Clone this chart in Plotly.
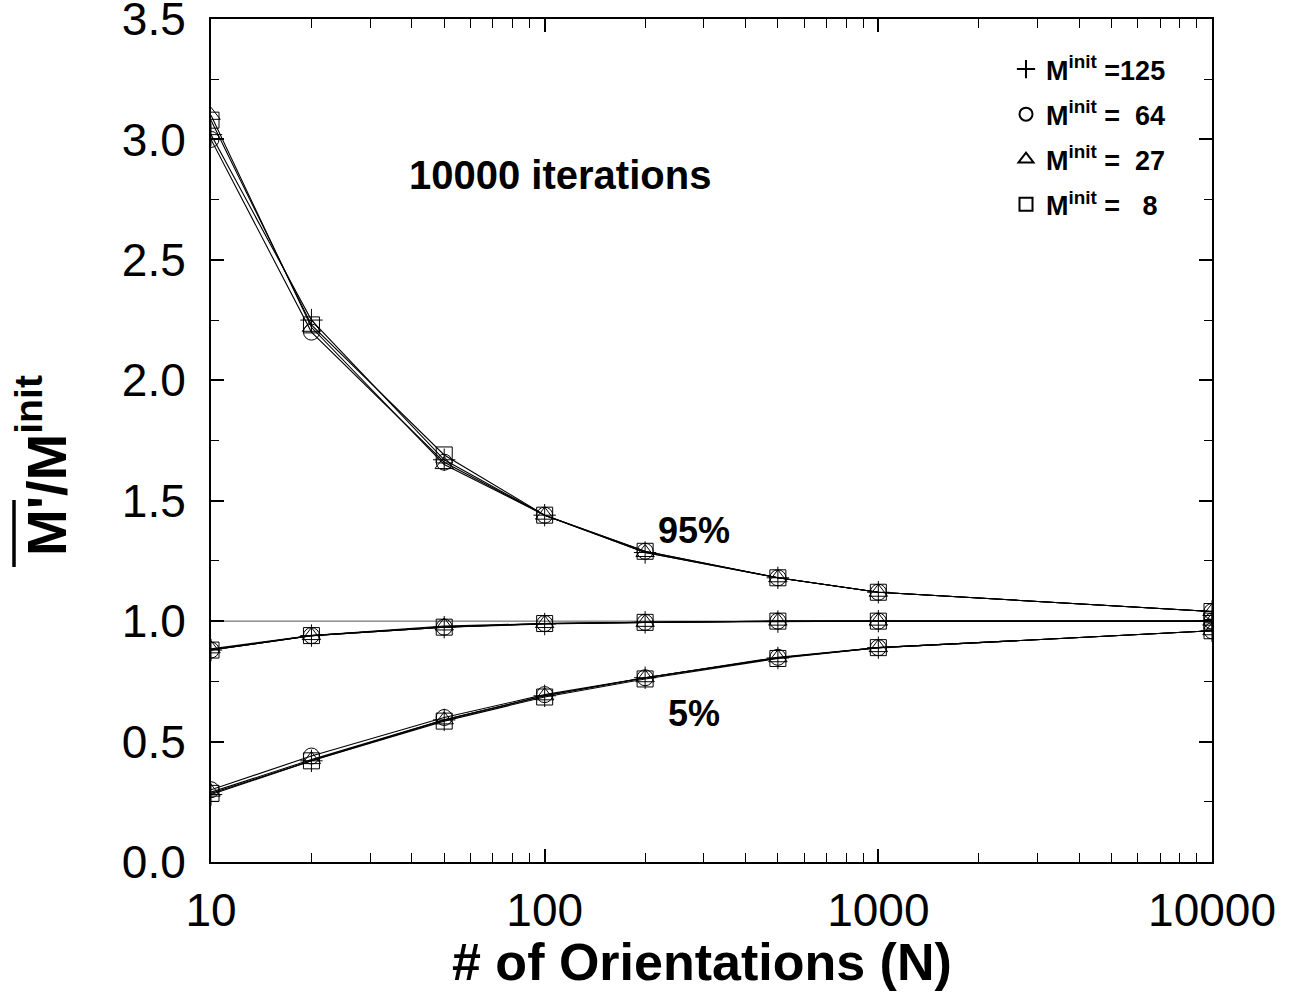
import plotly.graph_objects as go

# ---------------- data ----------------
N = [10, 20, 50, 100, 200, 500, 1000, 10000]

series_names = ["<b>M<sup>init</sup> =125</b>", "<b>M<sup>init</sup> =\u00a0 64</b>",
                "<b>M<sup>init</sup> =\u00a0 27</b>", "<b>M<sup>init</sup> =\u00a0\u00a0 8</b>"]
symbols = ["cross-thin-open", "circle-open", "triangle-up-open", "square-open"]

upper_125 = [3.02, 2.25, 1.67, 1.44, 1.285, 1.18, 1.12, 1.04]
mean_125 = [0.88, 0.94, 0.975, 0.988, 0.995, 0.998, 1.0, 1.0]
lower_125 = [0.28, 0.42, 0.59, 0.69, 0.765, 0.847, 0.89, 0.96]

upper_64 = [3.00, 2.20, 1.66, 1.44, 1.29, 1.18, 1.12, 1.04]
mean_64 = [0.88, 0.94, 0.975, 0.99, 0.995, 1.0, 1.0, 1.0]
lower_64 = [0.30, 0.44, 0.60, 0.695, 0.765, 0.85, 0.89, 0.96]

upper_27 = [3.10, 2.22, 1.65, 1.44, 1.285, 1.18, 1.12, 1.04]
mean_27 = [0.885, 0.94, 0.98, 0.99, 0.995, 1.0, 1.0, 1.0]
lower_27 = [0.29, 0.425, 0.59, 0.69, 0.765, 0.848, 0.89, 0.96]

upper_8 = [3.08, 2.23, 1.69, 1.44, 1.29, 1.18, 1.12, 1.04]
mean_8 = [0.88, 0.94, 0.975, 0.99, 0.995, 1.0, 1.0, 1.0]
lower_8 = [0.285, 0.42, 0.585, 0.685, 0.76, 0.845, 0.89, 0.96]

groups = [
    (upper_125, mean_125, lower_125),
    (upper_64, mean_64, lower_64),
    (upper_27, mean_27, lower_27),
    (upper_8, mean_8, lower_8),
]

x_tickvals = [10, 100, 1000, 10000]
x_ticktext = ["10", "100", "1000", "10000"]

# ---------------- figure ----------------
W, H = 1294, 996
L, T = 211, 19
R = W - 1212
B = H - 862
pw, ph = W - L - R, H - T - B


def px(xs):
    return (xs - L) / pw


def py(ys):
    return (H - B - ys) / ph


fig = go.Figure()

for (name, sym, curves) in zip(series_names, symbols, groups):
    for ys in curves:
        fig.add_trace(go.Scatter(
            x=N, y=ys, mode="lines+markers", showlegend=False,
            line=dict(color="black", width=1.1),
            marker=dict(symbol=sym, size=16, color="black",
                        line=dict(color="black", width=1)),
        ))

for i, (name, sym) in enumerate(zip(series_names, symbols)):
    fig.add_trace(go.Scatter(
        x=[None], y=[None], mode="markers", name=name, legendgroup=str(i),
        marker=dict(symbol=sym, size=13, color="black",
                    line=dict(color="black", width=2)),
    ))

axis_common = dict(
    showline=True, linecolor="black", linewidth=2, mirror="ticks",
    ticks="inside", tickcolor="black", tickwidth=1.5, ticklen=13,
    showgrid=False, zeroline=False, ticklabeloverflow="allow", automargin=False,
    tickfont=dict(family="Liberation Sans, Arial", size=46, color="black"),
)

fig.update_xaxes(
    type="log", range=[1, 4], tickvals=x_tickvals, ticktext=x_ticktext,
    minor=dict(ticks="inside", ticklen=9, tickwidth=1.2, tickcolor="black",
               dtick="D1", showgrid=False),
    ticklabelstandoff=7,
    **axis_common,
)
fig.update_yaxes(
    range=[0, 3.5], dtick=0.5, tickformat=".1f",
    minor=dict(ticks="inside", ticklen=8, tickwidth=1.2, tickcolor="black",
               dtick=0.25, showgrid=False),
    ticklabelstandoff=14,
    **axis_common,
)

# reference line at 1.0
fig.add_shape(type="line", xref="paper", yref="y", x0=0, x1=1, y0=1, y1=1,
              line=dict(color="#555", width=1), layer="below")

font_family = "Liberation Sans, Arial"
anns = [
    dict(text="<b>10000 iterations</b>", x=px(560), y=py(175), size=40),
    dict(text="<b>95%</b>", x=px(694), y=py(530), size=36),
    dict(text="<b>5%</b>", x=px(694), y=py(713), size=36),
    dict(text="<b># of Orientations (N)</b>", x=px(702), y=py(962), size=52),
]
for a in anns:
    fig.add_annotation(text=a["text"], x=a["x"], y=a["y"], xref="paper", yref="paper",
                       showarrow=False, xanchor="center", yanchor="middle",
                       font=dict(family=font_family, size=a["size"], color="black"))

fig.add_annotation(text="<b>M'/M<sup>init</sup></b>", x=px(43), y=py(466),
                   xref="paper", yref="paper", showarrow=False, textangle=-90,
                   xanchor="center", yanchor="middle",
                   font=dict(family=font_family, size=56, color="black"))
# overline on M'
fig.add_shape(type="line", xref="paper", yref="paper",
              x0=px(14), x1=px(14), y0=py(500), y1=py(567),
              line=dict(color="black", width=3.5))

fig.update_layout(
    width=W, height=H,
    margin=dict(l=L, r=R, t=T, b=B, autoexpand=False),
    paper_bgcolor="white", plot_bgcolor="white",
    showlegend=True,
    legend=dict(x=px(1006), y=py(45), xanchor="left", yanchor="top",
                bgcolor="rgba(0,0,0,0)", traceorder="grouped", tracegroupgap=7,
                font=dict(family=font_family, size=27, color="black"),
                itemwidth=30),
)

fig.write_html("out.html", config={"displayModeBar": False},
               post_script="document.body.style.margin='0';document.body.style.overflow='hidden';")
